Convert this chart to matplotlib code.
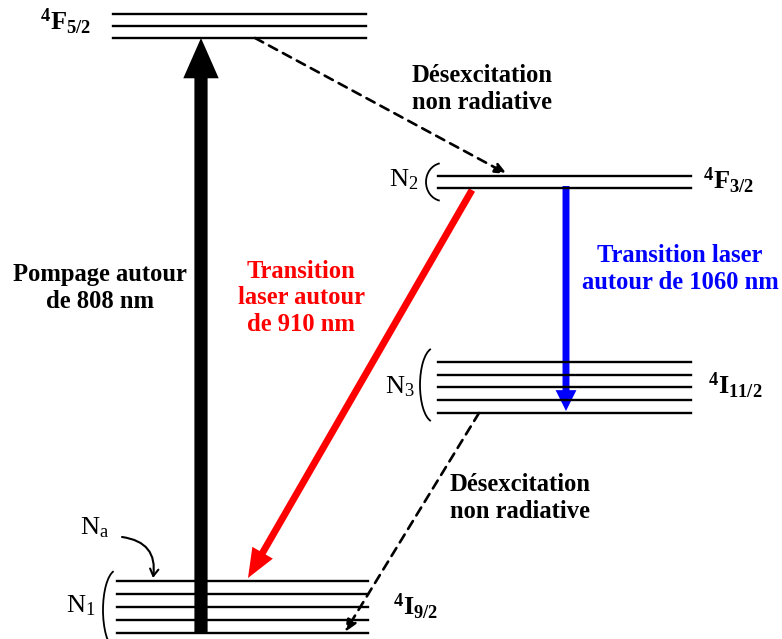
import matplotlib.pyplot as plt
from matplotlib.patches import FancyArrowPatch, Arc

plt.rcParams["mathtext.fontset"] = "custom"
plt.rcParams["mathtext.rm"] = "Liberation Serif"
plt.rcParams["mathtext.it"] = "Liberation Serif:italic"
plt.rcParams["mathtext.bf"] = "Liberation Serif:bold"

# Niveaux d'énergie (coordonnées en pixels de l'image)
niveau_f52 = [14, 26, 38]
niveau_f32 = [176, 188]
niveau_i112 = [362, 375, 387, 400, 413]
niveau_i92 = [581, 594, 607, 620, 633]

gauche_x = (113, 366)
droite_x = (438, 691)

serif = "Liberation Serif"

fig = plt.figure(figsize=(7.82, 6.39), dpi=100)
ax = fig.add_axes([0, 0, 1, 1])
ax.set_xlim(0, 782)
ax.set_ylim(639, 0)
ax.axis("off")

# Lignes des niveaux
for y in niveau_f52:
    ax.plot(gauche_x, [y, y], color="black", lw=1.7)
for y in niveau_i92:
    ax.plot((117, 368), [y, y], color="black", lw=1.7)
for y in niveau_f32 + niveau_i112:
    ax.plot(droite_x, [y, y], color="black", lw=1.7)

# Etiquettes des niveaux
lab = dict(fontsize=19, va="center", ha="left")
ax.text(40, 22, r"$\mathbf{^4F_{5/2}}$", **lab)
ax.text(703, 181, r"$\mathbf{^4F_{3/2}}$", **lab)
ax.text(708, 386, r"$\mathbf{^4I_{11/2}}$", **lab)
ax.text(393, 607, r"$\mathbf{^4I_{9/2}}$", **lab)

# Populations
pop = dict(fontsize=19, va="center", ha="center")
ax.text(404, 179, r"$\mathrm{N_2}$", **pop)
ax.text(400, 386, r"$\mathrm{N_3}$", **pop)
ax.text(81, 605, r"$\mathrm{N_1}$", **pop)
ax.text(95, 527, r"$\mathrm{N_a}$", **pop)

# Parenthèses
ax.add_patch(Arc((443, 182), 34, 38, theta1=100, theta2=260, color="black", lw=1.3))
ax.add_patch(Arc((434, 385), 28, 74, theta1=95, theta2=265, color="black", lw=1.3))
ax.add_patch(Arc((117, 610), 28, 80, theta1=95, theta2=265, color="black", lw=1.3))

# Flèche de pompage
ax.add_patch(FancyArrowPatch((201, 634), (201, 38),
                             arrowstyle="simple,head_width=2.55,head_length=2.9,tail_width=0.95",
                             mutation_scale=10, color="black", lw=0, shrinkA=0, shrinkB=0))

# Transition rouge
ax.add_patch(FancyArrowPatch((472, 190), (248, 578),
                             arrowstyle="simple,head_width=1.7,head_length=2.1,tail_width=0.5",
                             mutation_scale=10, color="red", lw=0, shrinkA=0, shrinkB=0))

# Transition bleue
ax.add_patch(FancyArrowPatch((566, 186), (566, 411),
                             arrowstyle="simple,head_width=1.5,head_length=1.5,tail_width=0.5",
                             mutation_scale=10, color="blue", lw=0, shrinkA=0, shrinkB=0))

# Désexcitations non radiatives
tirets = dict(arrowstyle="-|>,head_width=0.3,head_length=0.7", color="black",
              lw=1.9, linestyle=(0, (3.5, 2.5)), shrinkA=0, shrinkB=0)
ax.annotate("", xy=(507, 174), xytext=(255, 38), arrowprops=tirets)
ax.annotate("", xy=(345, 632), xytext=(479, 413), arrowprops=tirets)

# Petite flèche courbe pour Na
ax.annotate("", xy=(153, 578), xytext=(122, 537),
            arrowprops=dict(arrowstyle="->,head_width=0.3,head_length=0.5", color="black", lw=1.5,
                            connectionstyle="arc3,rad=-0.5", shrinkA=0, shrinkB=0))

# Textes
txt = dict(fontsize=17.7, fontweight="bold", family=serif, ha="center", va="center", linespacing=1.2)
ax.text(482, 89, "Désexcitation\nnon radiative", color="black", **txt)
ax.text(520, 498, "Désexcitation\nnon radiative", color="black", **txt)
ax.text(100, 288, "Pompage autour\nde 808 nm", color="black", **txt)
ax.text(301, 298, "Transition\nlaser autour\nde 910 nm", color="red", **txt)
ax.text(680, 269, "Transition laser\nautour de 1060 nm", color="blue", **txt)

fig.savefig("out.png", dpi=100)
